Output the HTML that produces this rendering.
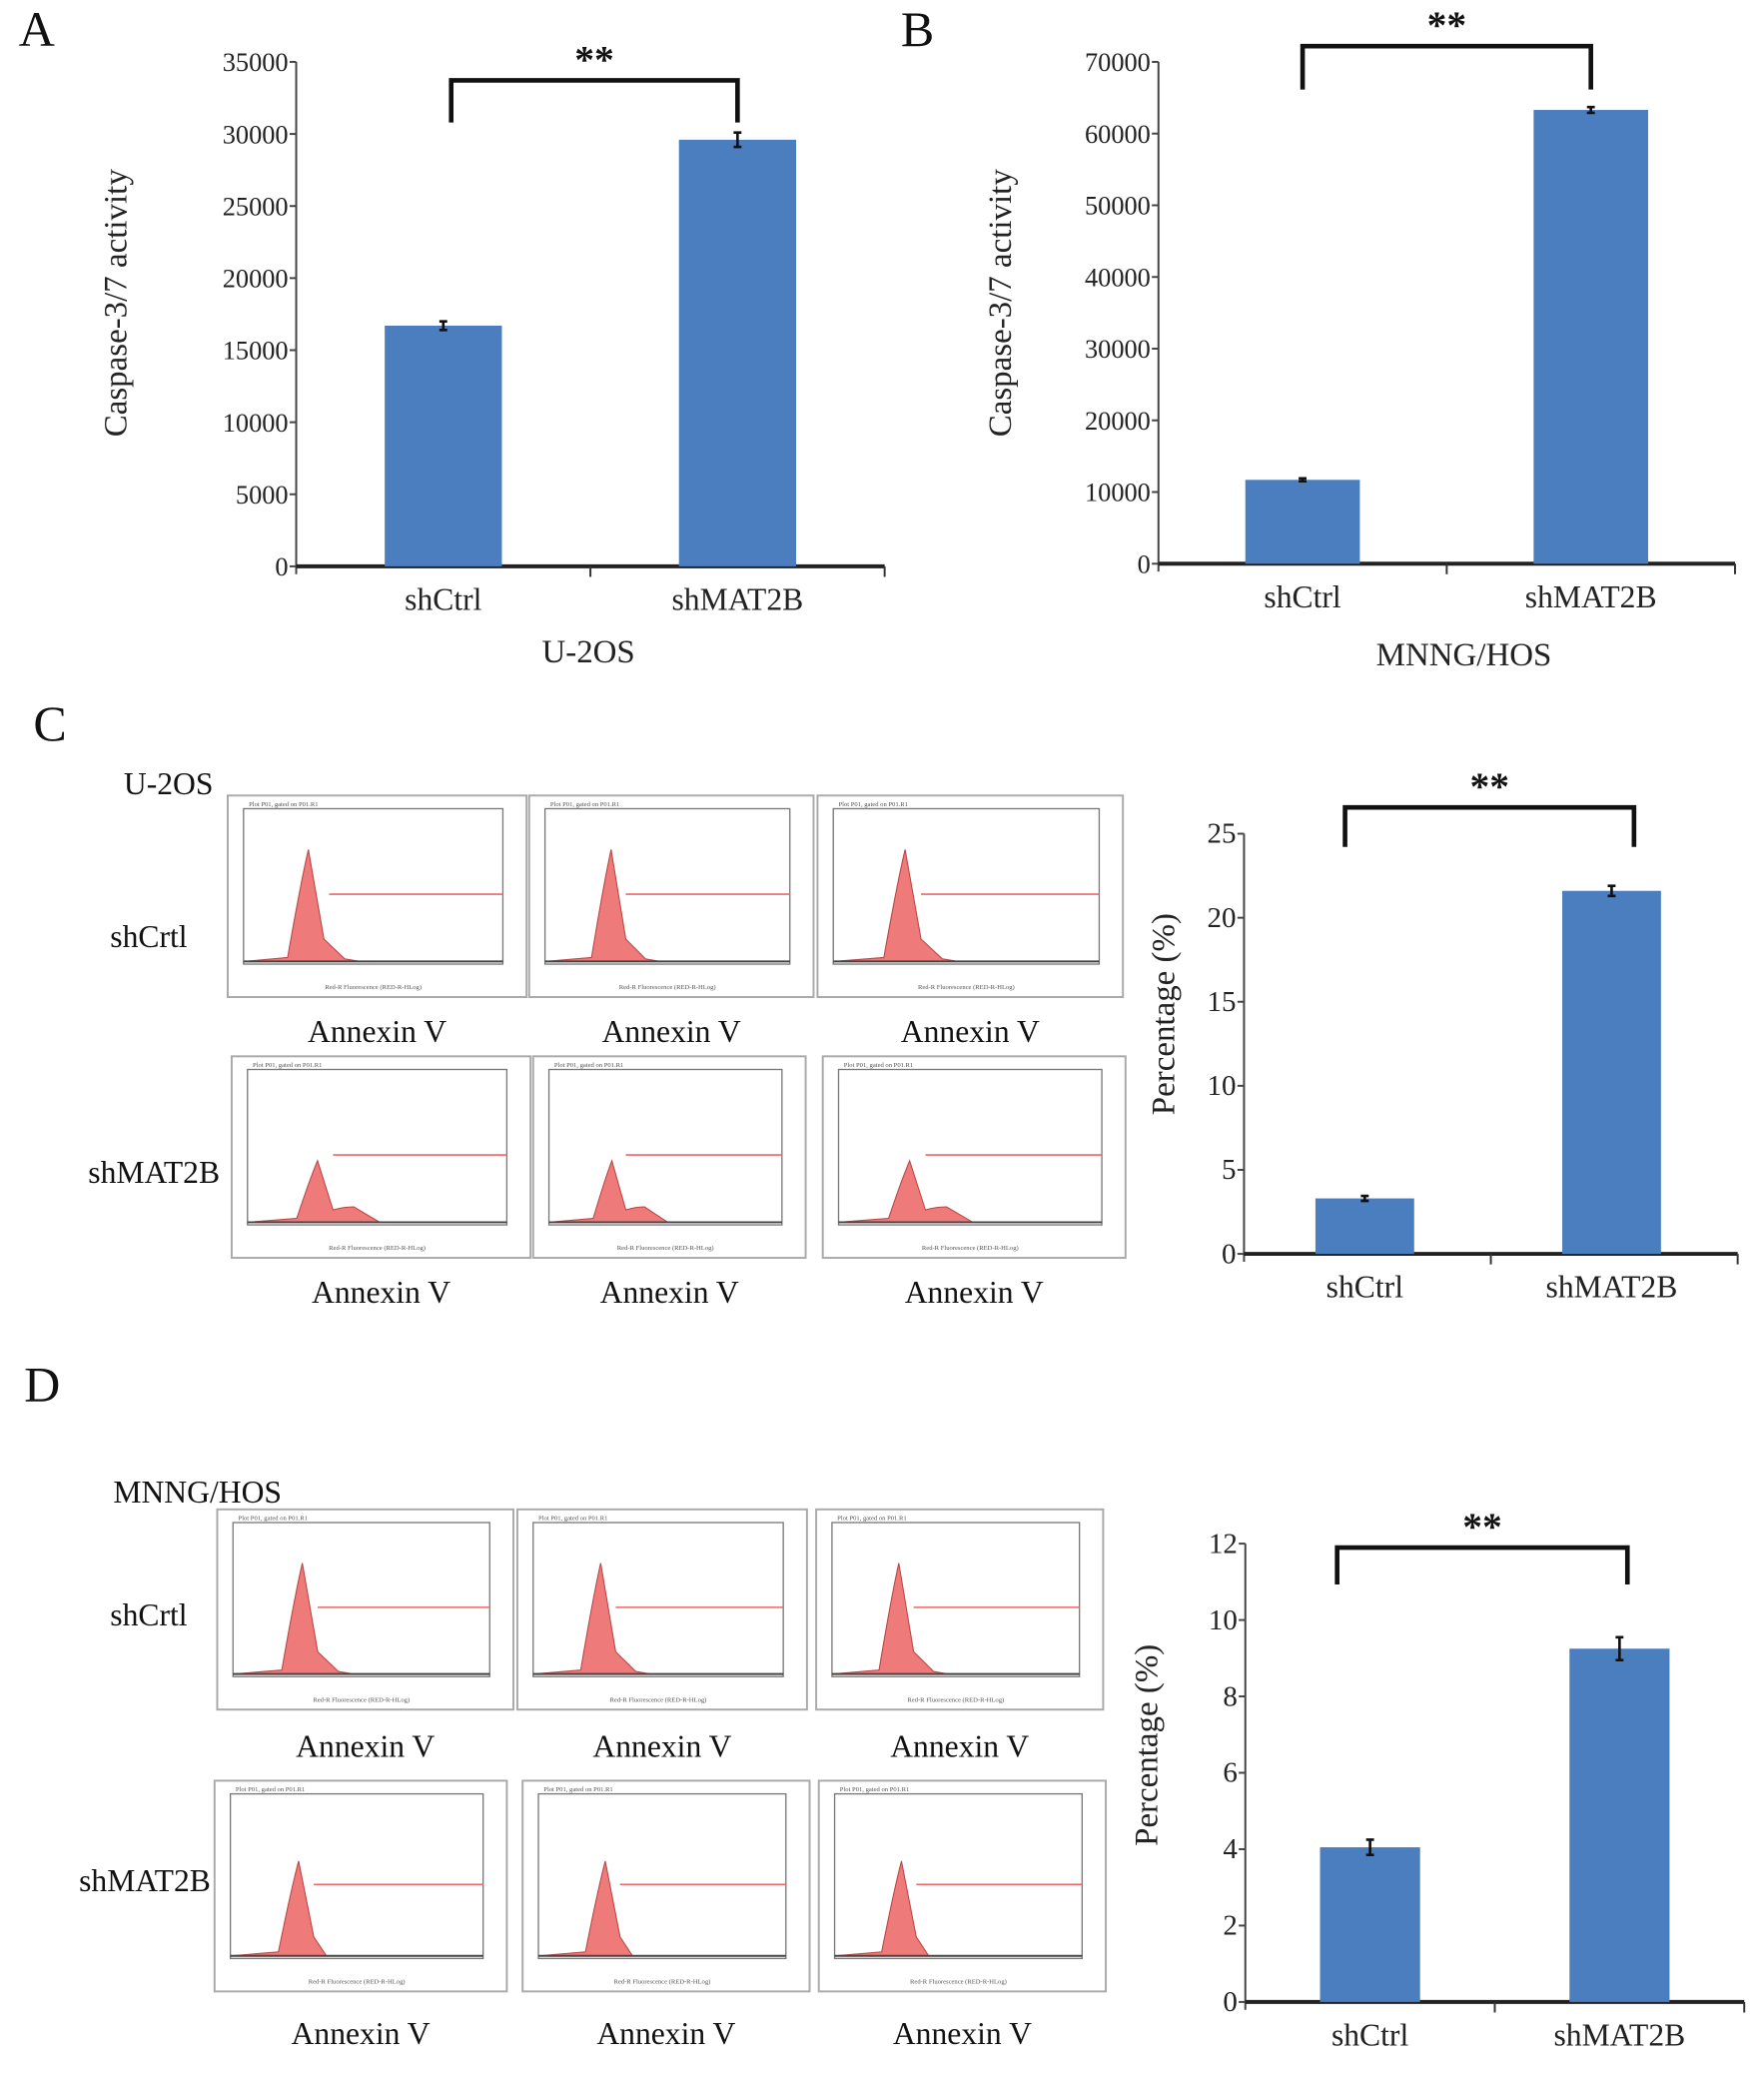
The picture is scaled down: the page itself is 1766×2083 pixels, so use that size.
<!DOCTYPE html>
<html><head><meta charset="utf-8"><style>
html,body{margin:0;padding:0;background:#fff;}
svg{display:block;font-family:"Liberation Serif",serif;}
</style></head><body>
<svg id="fig" width="1766" height="2083" viewBox="0 0 1340 1580" preserveAspectRatio="none" xmlns="http://www.w3.org/2000/svg"></svg>
<script>
const categories = ["shCtrl", "shMAT2B"];
const valuesA = [16700, 29600];
const errA = [300, 500];
const ticksA = [0,5000,10000,15000,20000,25000,30000,35000];
const valuesB = [11700, 63300];
const errB = [200, 400];
const ticksB = [0,10000,20000,30000,40000,50000,60000,70000];
const valuesC = [3.3, 21.6];
const errC = [0.15, 0.3];
const ticksC = [0,5,10,15,20,25];
const valuesD = [4.05, 9.25];
const errD = [0.2, 0.3];
const ticksD = [0,2,4,6,8,10,12];

const NS="http://www.w3.org/2000/svg";
const svg=document.getElementById('fig');
function mk(tag,attrs,parent,text){const e=document.createElementNS(NS,tag);for(const k in attrs)e.setAttribute(k,attrs[k]);if(text!==undefined)e.textContent=text;(parent||svg).appendChild(e);return e;}

function barChart(cfg,values,errs,ticks){
  const g=mk('g',{});
  
  
  const maxV=ticks[ticks.length-1];
  const y=v=>cfg.y0-(v/maxV)*(cfg.y0-cfg.yTop);
  const ax=mk('line',{x1:cfg.x0,y1:cfg.yTop,x2:cfg.x0,y2:cfg.y0+6,stroke:'#444','stroke-width':1.5},g);
  
  ticks.forEach(t=>{
    mk('line',{x1:cfg.x0-5,y1:y(t),x2:cfg.x0,y2:y(t),stroke:'#444','stroke-width':1.5},g);
    const tl=mk('text',{x:cfg.x0-6,y:y(t)+7,'text-anchor':'end','font-size':cfg.tfs,fill:'#222'},g,String(t));
    
  });
  const xa=mk('line',{x1:cfg.x0,y1:cfg.y0,x2:cfg.x1,y2:cfg.y0,stroke:'#222','stroke-width':3},g);
  
  [(cfg.x0+cfg.x1)/2,cfg.x1].forEach(tx=>mk('line',{x1:tx,y1:cfg.y0,x2:tx,y2:cfg.y0+8,stroke:'#333','stroke-width':1.5},g));
  const slot=(cfg.x1-cfg.x0)/values.length;
  values.forEach((v,i)=>{
    const cx=cfg.x0+slot*(i+0.5)+cfg.shift;
    const b=mk('rect',{x:cx-cfg.bw/2,y:y(v),width:cfg.bw,height:cfg.y0-y(v),fill:'#4a7ebf'},g);
    
    const e1=y(v+errs[i]),e2=y(v-errs[i]);
    const eb=mk('path',{d:`M${cx},${e1}V${e2}M${cx-3},${e1}H${cx+3}M${cx-3},${e2}H${cx+3}`,stroke:'#111','stroke-width':2,fill:'none'},g);
    
    const xl=mk('text',{x:cx,y:cfg.y0+33,'text-anchor':'middle','font-size':24,fill:'#222'},g,categories[i]);
    
    if(i===0)cfg.bx1=cx+cfg.bo; else cfg.bx2=cx+cfg.bo2;
  });
  const br=mk('path',{d:`M${cfg.bx1},${cfg.bLow}V${cfg.bTop}H${cfg.bx2}V${cfg.bLow}`,stroke:'#111','stroke-width':3.5,fill:'none'},g);
  
  const st=mk('text',{x:(cfg.bx1+cfg.bx2)/2,y:cfg.bTop-6,'text-anchor':'middle','font-size':30,'font-weight':'bold',fill:'#111'},g,'**');
  
  const yt=mk('text',{x:0,y:0,transform:`translate(${cfg.ytx},${cfg.yty}) rotate(-90)`,'text-anchor':'middle','font-size':25,fill:'#222'},g,cfg.ytitle);
  
  if(cfg.xtitle){const xt=mk('text',{x:cfg.xtx,y:cfg.xty,'text-anchor':'middle','font-size':25,fill:'#222'},g,cfg.xtitle);
    }
}
barChart({name:'chart-a',x0:225,x1:672,y0:430,yTop:47,bw:89,shift:0,tfs:20,bo:6,bo2:0,bLow:93,bTop:61,ytitle:'Caspase-3/7 activity',ytx:96,yty:230,xtitle:'U-2OS',xtx:447,xty:503},valuesA,errA,ticksA);
barChart({name:'chart-b',x0:880,x1:1318,y0:428,yTop:47,bw:87,shift:0,tfs:20,bo:0,bo2:0,bLow:68,bTop:35,ytitle:'Caspase-3/7 activity',ytx:768,yty:230,xtitle:'MNNG/HOS',xtx:1112,xty:505},valuesB,errB,ticksB);
barChart({name:'chart-c',x0:945,x1:1320,y0:952,yTop:633,bw:75,shift:-2,tfs:22,bo:-15,bo2:17,bLow:643,bTop:613,ytitle:'Percentage (%)',ytx:892,yty:770},valuesC,errC,ticksC);
barChart({name:'chart-d',x0:946,x1:1325,y0:1520,yTop:1172,bw:76,shift:0,tfs:22,bo:-25,bo2:6,bLow:1203,bTop:1175,ytitle:'Percentage (%)',ytx:879,yty:1325},valuesD,errD,ticksD);

function label(x,y,t,fs,name,anchor){const e=mk('text',{x:x,y:y,'font-size':fs,'text-anchor':anchor||'middle',fill:'#111'},svg,t);}
label(28,35,'A',38,'panel-label-a');label(697,35,'B',38,'panel-label-b');
label(38,562,'C',38,'panel-label-c');label(32,1064,'D',38,'panel-label-d');
label(128,603,'U-2OS',24,'cell-line-label');label(150,1141,'MNNG/HOS',24,'cell-line-label');
label(113,719,'shCrtl',24,'row-label');label(117,898,'shMAT2B',24,'row-label');
label(113,1234,'shCrtl',24,'row-label');label(110,1436,'shMAT2B',24,'row-label');

const flowBoxes=[
 [173,604,227,153,0.25,1,0],[402,604,216,153,0.27,1,0],[621,604,232,153,0.27,1,0],
 [176,802,227,153,0.27,0.55,1],[405,802,207,153,0.27,0.55,1],[625,802,230,153,0.27,0.55,1],
 [165,1146,225,152,0.27,1,0],[393,1146,220,152,0.27,1,0],[620,1146,218,152,0.27,1,0],
 [163,1352,222,160,0.27,0.8,2],[397,1352,218,160,0.27,0.8,2],[622,1352,218,160,0.27,0.8,2]];
flowBoxes.forEach((b,i)=>{
  const [x,y,w,h,pk,ht,kind]=b;
  const g=mk('g',{});
  mk('rect',{x:x,y:y,width:w,height:h,fill:'#fff',stroke:'#aaa','stroke-width':1.5},g);
  const px=x+12,py=y+10,pw=w-30,ph=h-35;
  mk('rect',{x:px,y:py,width:pw,height:ph,fill:'none',stroke:'#777','stroke-width':1},g);
  mk('text',{x:px+4,y:py-2,'font-size':5,fill:'#555'},g,'Plot P01, gated on P01.R1');
  const base=py+ph-2, c=px+pw*pk, H=ph*0.72*ht;
  let d=`M${px},${base}L${c-pw*0.08},${base-3}Q${c-pw*0.03},${base-H*0.7} ${c},${base-H}Q${c+pw*0.03},${base-H*0.6} ${c+pw*0.06},${base-H*0.2}`;
  if(kind===1)d+=`Q${c+pw*0.1},${base-H*0.25} ${c+pw*0.14},${base-H*0.25}Q${c+pw*0.2},${base-H*0.1} ${c+pw*0.24},${base}`;
  else if(kind===2)d+=`L${c+pw*0.11},${base}`;
  else d+=`L${c+pw*0.14},${base-2}L${c+pw*0.2},${base}`;
  d+='Z';
  mk('path',{d:d,fill:'#ee7a7a',stroke:'#b44','stroke-width':0.8},g);
  mk('line',{x1:px,y1:base,x2:px+pw,y2:base,stroke:'#444','stroke-width':1.5},g);
  mk('line',{x1:px+pw*0.33,y1:py+ph*0.55,x2:px+pw,y2:py+ph*0.55,stroke:'#e66','stroke-width':1.2},g);
  mk('text',{x:px+pw/2,y:y+h-6,'font-size':5,'text-anchor':'middle',fill:'#555'},g,'Red-R Fluorescence (RED-R-HLog)');
  const al=mk('text',{x:x+w/2,y:y+h+(i>=9?40:(i>=6?36:34)),'font-size':24,'text-anchor':'middle',fill:'#111'},svg,'Annexin V');
  
});
</script>
</body></html>
